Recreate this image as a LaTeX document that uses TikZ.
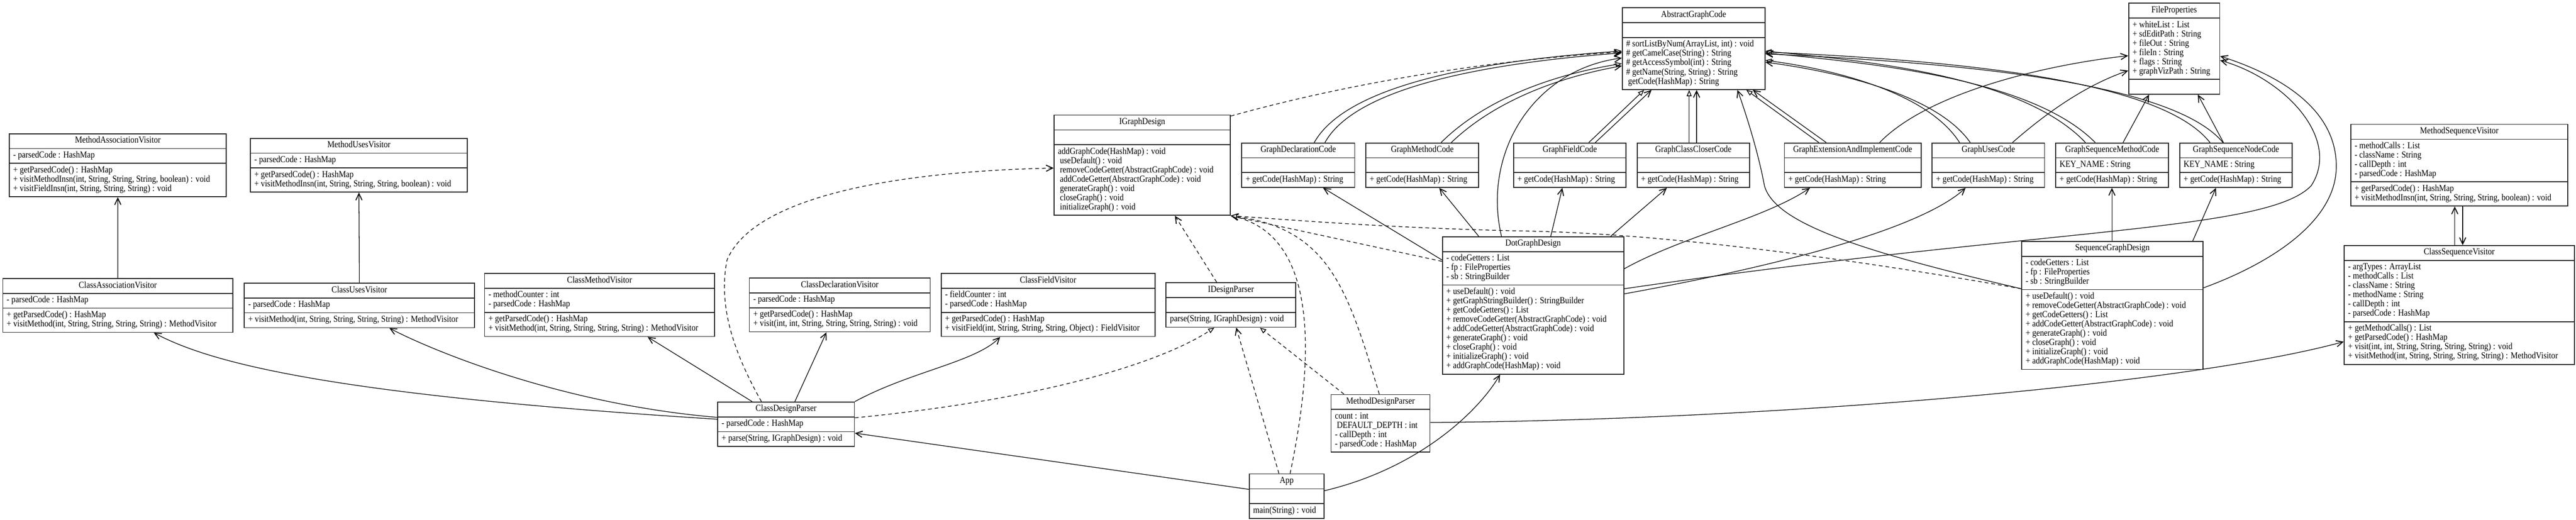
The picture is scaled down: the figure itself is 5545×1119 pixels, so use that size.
\documentclass[tikz,border=0pt]{standalone}
\usepackage{fontspec}
\setmainfont{Liberation Serif}[FakeStretch=0.88]
\usetikzlibrary{positioning, calc, arrows.meta, shapes.multipart}
\tikzset{umlclass/.style={draw=black!85, line width=0.55pt, rectangle split, rectangle split parts=3,
    align=flush left, anchor=north west, inner xsep=2.4pt, inner ysep=1.42pt,
    font=\fontsize{5.65pt}{5.69pt}\selectfont}}
\tikzset{cls/.style={umlclass, text width=#1-4.8pt}}
\tikzset{assoc/.style={line width=0.4pt, -{Straight Barb[length=4pt,width=3.8pt,line width=0.55pt]}}}
\tikzset{dep/.style={assoc, dash pattern=on 2.3pt off 1.8pt}}
\tikzset{gen/.style={line width=0.4pt, -{Triangle[length=3.8pt,width=3pt,fill=white,line width=0.45pt]}}}
\tikzset{real/.style={gen, dash pattern=on 2.3pt off 1.8pt}}

\begin{document}
\begin{tikzpicture}[x=0.01cm, y=-0.01cm]
  \fill[white] (0,0) rectangle (5545,1119);
  \useasboundingbox (0,0) rectangle (5545,1119);

  % visitors
  \node[cls=4.67cm] (mav) at (19,287) {\centering\strut MethodAssociationVisitor\par
    \nodepart{two}\strut - parsedCode : HashMap\strut
    \nodepart{three}\strut + getParsedCode() : HashMap\\+ visitMethodInsn(int, String, String, String, boolean) : void\\+ visitFieldInsn(int, String, String, String) : void\strut};
  \node[cls=4.67cm] (muv) at (538,297) {\centering\strut MethodUsesVisitor\par
    \nodepart{two}\strut - parsedCode : HashMap\strut
    \nodepart{three}\strut + getParsedCode() : HashMap\\+ visitMethodInsn(int, String, String, String, boolean) : void\strut};
  \node[cls=4.95cm] (cav) at (5,599) {\centering\strut ClassAssociationVisitor\par
    \nodepart{two}\strut - parsedCode : HashMap\strut
    \nodepart{three}\strut + getParsedCode() : HashMap\\+ visitMethod(int, String, String, String, String) : MethodVisitor\strut};
  \node[cls=4.95cm] (cuv) at (525,609) {\centering\strut ClassUsesVisitor\par
    \nodepart{two}\strut - parsedCode : HashMap\strut
    \nodepart{three}\strut + visitMethod(int, String, String, String, String) : MethodVisitor\strut};
  \node[cls=4.95cm] (cmv) at (1042,588) {\centering\strut ClassMethodVisitor\par
    \nodepart{two}\strut - methodCounter : int\\- parsedCode : HashMap\strut
    \nodepart{three}\strut + getParsedCode() : HashMap\\+ visitMethod(int, String, String, String, String) : MethodVisitor\strut};
  \node[cls=3.89cm] (cdv) at (1612,598) {\centering\strut ClassDeclarationVisitor\par
    \nodepart{two}\strut - parsedCode : HashMap\strut
    \nodepart{three}\strut + getParsedCode() : HashMap\\+ visit(int, int, String, String, String, String) : void\strut};
  \node[cls=4.60cm] (cfv) at (2025,588) {\centering\strut ClassFieldVisitor\par
    \nodepart{two}\strut - fieldCounter : int\\- parsedCode : HashMap\strut
    \nodepart{three}\strut + getParsedCode() : HashMap\\+ visitField(int, String, String, String, Object) : FieldVisitor\strut};
  \node[cls=4.67cm] (msv) at (5059,267) {\centering\strut MethodSequenceVisitor\par
    \nodepart{two}\strut - methodCalls : List\\- className : String\\- callDepth : int\\- parsedCode : HashMap\strut
    \nodepart{three}\strut + getParsedCode() : HashMap\\+ visitMethodInsn(int, String, String, String, boolean) : void\strut};
  \node[cls=4.95cm] (csv) at (5045,528) {\centering\strut ClassSequenceVisitor\par
    \nodepart{two}\strut - argTypes : ArrayList\\- methodCalls : List\\- className : String\\- methodName : String\\- callDepth : int\\- parsedCode : HashMap\strut
    \nodepart{three}\strut + getMethodCalls() : List\\+ getParsedCode() : HashMap\\+ visit(int, int, String, String, String, String) : void\\+ visitMethod(int, String, String, String, String) : MethodVisitor\strut};

  % parsers and app
  \node[cls=2.79cm] (idp) at (2509,608) {\centering\strut IDesignParser\par
    \nodepart{two}\strut
    \nodepart{three}\strut parse(String, IGraphDesign) : void\strut};
  \node[cls=2.94cm] (cdp) at (1544,865) {\centering\strut ClassDesignParser\par
    \nodepart{two}\strut - parsedCode : HashMap\strut
    \nodepart{three}\strut + parse(String, IGraphDesign) : void\strut};
  \node[cls=2.13cm, rectangle split parts=2] (mdp) at (2864,849) {\centering\strut MethodDesignParser\par
    \nodepart{two}\strut count : int\\\hspace*{1.2pt}DEFAULT\_DEPTH : int\\- callDepth : int\\- parsedCode : HashMap\strut};
  \node[cls=1.61cm] (app) at (2688,1020) {\centering\strut App\par
    \nodepart{two}\strut
    \nodepart{three}\strut main(String) : void\strut};

  % graph designs
  \node[cls=3.79cm] (igd) at (2268,247) {\centering\strut IGraphDesign\par
    \nodepart{two}\strut
    \nodepart{three}\strut addGraphCode(HashMap) : void\\\hspace*{1.2pt}useDefault() : void\\\hspace*{1.2pt}removeCodeGetter(AbstractGraphCode) : void\\\hspace*{1.2pt}addCodeGetter(AbstractGraphCode) : void\\\hspace*{1.2pt}generateGraph() : void\\\hspace*{1.2pt}closeGraph() : void\\\hspace*{1.2pt}initializeGraph() : void\strut};
  \node[cls=3.90cm] (dgd) at (3104,509) {\centering\strut DotGraphDesign\par
    \nodepart{two}\strut - codeGetters : List\\- fp : FileProperties\\- sb : StringBuilder\strut
    \nodepart{three}\strut + useDefault() : void\\+ getGraphStringBuilder() : StringBuilder\\+ getCodeGetters() : List\\+ removeCodeGetter(AbstractGraphCode) : void\\+ addCodeGetter(AbstractGraphCode) : void\\+ generateGraph() : void\\+ closeGraph() : void\\+ initializeGraph() : void\\+ addGraphCode(HashMap) : void\strut};
  \node[cls=3.90cm] (sgd) at (4351,519) {\centering\strut SequenceGraphDesign\par
    \nodepart{two}\strut - codeGetters : List\\- fp : FileProperties\\- sb : StringBuilder\strut
    \nodepart{three}\strut + useDefault() : void\\+ removeCodeGetter(AbstractGraphCode) : void\\+ getCodeGetters() : List\\+ addCodeGetter(AbstractGraphCode) : void\\+ generateGraph() : void\\+ closeGraph() : void\\+ initializeGraph() : void\\+ addGraphCode(HashMap) : void\strut};

  % code getters
  \node[cls=3.07cm] (agc) at (3491,16) {\centering\strut AbstractGraphCode\par
    \nodepart{two}\strut
    \nodepart{three}\strut\# sortListByNum(ArrayList, int) : void\\\# getCamelCase(String) : String\\\# getAccessSymbol(int) : String\\\# getName(String, String) : String\\\hspace*{1.2pt}getCode(HashMap) : String\strut};
  \node[cls=1.96cm] (fp) at (4581,6) {\centering\strut FileProperties\par
    \nodepart{two}\strut + whiteList : List\\+ sdEditPath : String\\+ fileOut : String\\+ fileIn : String\\+ flags : String\\+ graphVizPath : String\strut
    \nodepart{three}\strut};
  \node[cls=2.43cm] (gdc) at (2672,307) {\centering\strut GraphDeclarationCode\par
    \nodepart{two}\strut\nodepart{three}\strut + getCode(HashMap) : String\strut};
  \node[cls=2.43cm] (gmc) at (2939,307) {\centering\strut GraphMethodCode\par
    \nodepart{two}\strut\nodepart{three}\strut + getCode(HashMap) : String\strut};
  \node[cls=2.42cm] (gfc) at (3257,307) {\centering\strut GraphFieldCode\par
    \nodepart{two}\strut\nodepart{three}\strut + getCode(HashMap) : String\strut};
  \node[cls=2.42cm] (gccc) at (3523,307) {\centering\strut GraphClassCloserCode\par
    \nodepart{two}\strut\nodepart{three}\strut + getCode(HashMap) : String\strut};
  \node[cls=2.94cm] (geaic) at (3840,307) {\centering\strut GraphExtensionAndImplementCode\par
    \nodepart{two}\strut\nodepart{three}\strut + getCode(HashMap) : String\strut};
  \node[cls=2.42cm] (guc) at (4158,307) {\centering\strut GraphUsesCode\par
    \nodepart{two}\strut\nodepart{three}\strut + getCode(HashMap) : String\strut};
  \node[cls=2.43cm] (gsmc) at (4424,307) {\centering\strut GraphSequenceMethodCode\par
    \nodepart{two}\strut KEY\_NAME : String\strut\nodepart{three}\strut + getCode(HashMap) : String\strut};
  \node[cls=2.42cm] (gsnc) at (4691,307) {\centering\strut GraphSequenceNodeCode\par
    \nodepart{two}\strut KEY\_NAME : String\strut\nodepart{three}\strut + getCode(HashMap) : String\strut};

  % visitor links
  \draw[assoc] (cav.north) -- (mav.south);
  \draw[assoc] (cuv.north) -- (muv.south);
  \draw[assoc] ($(cdp.north west)+(0,38)$) .. controls (700,850) and (450,780) .. ($(cav.south west)+(326,0)$);
  \draw[assoc] ($(cdp.north west)+(0,34)$) .. controls (1200,870) and (920,750) .. ($(cuv.south west)+(313,0)$);
  \draw[assoc] ($(cdp.north west)+(75,0)$) -- ($(cmv.south west)+(352,0)$);
  \draw[assoc] ($(cdp.north west)+(167,0)$) -- ($(cdv.south west)+(167,0)$);
  \draw[assoc] (cdp.north east) .. controls (1960,800) and (2100,780) .. ($(cfv.south west)+(128,0)$);
  \draw[dep] ($(cdp.north west)+(95,0)$) .. controls (1580,760) and (1545,660) .. (1565,560)
    .. controls (1620,430) and (1900,370) .. ($(igd.north west)+(0,115)$);
  \draw[real] ($(cdp.north east)+(0,35)$) .. controls (2250,860) and (2500,780) .. ($(idp.south west)+(105,0)$);
  \draw[assoc] ($(app.north west)+(0,34)$) -- ($(cdp.north east)+(0,68)$);
  \draw[assoc] ($(app.north east)+(0,37)$) .. controls (3050,1010) and (3180,890) .. ($(dgd.south west)+(125,0)$);
  \draw[dep] ($(app.north west)+(65,0)$) -- ($(idp.south west)+(152,0)$);
  \draw[dep] ($(app.north west)+(89,0)$) .. controls (2840,720) and (2820,500) .. (igd.south east);
  \draw[real] ($(mdp.north west)+(29,0)$) -- ($(idp.south west)+(203,0)$);
  \draw[dep] ($(mdp.north west)+(105,0)$) .. controls (2900,620) and (2860,490) .. (igd.south east);
  \draw[assoc] ($(mdp.north east)+(0,61)$) .. controls (3800,905) and (4700,830) .. ($(csv.north west)+(0,208)$);
  \draw[dep] ($(idp.north west)+(110,0)$) -- ($(igd.south west)+(261,0)$);
  \draw[assoc] ($(csv.north west)+(239,0)$) -- ($(msv.south west)+(225,0)$);
  \draw[assoc] ($(msv.south west)+(242,0)$) -- ($(csv.north west)+(256,0)$);

  % graph design links
  \draw[dep] ($(igd.north east)+(0,3)$) .. controls (2900,180) and (3200,130) .. ($(agc.north west)+(0,96)$);
  \draw[real] ($(dgd.north west)+(0,54)$) -- (igd.south east);
  \draw[real] ($(sgd.north west)+(0,103)$) .. controls (4000,560) and (3600,505) .. (3300,498)
    .. controls (3000,492) and (2800,475) .. (igd.south east);
  \draw[assoc] ($(dgd.north west)+(0,51)$) -- ($(gdc.south west)+(176,0)$);
  \draw[assoc] ($(dgd.north west)+(79,0)$) -- ($(gmc.south west)+(159,0)$);
  \draw[assoc] ($(dgd.north west)+(128,0)$) .. controls (3190,330) and (3300,150) .. ($(agc.north west)+(0,109)$);
  \draw[assoc] ($(dgd.north west)+(234,0)$) -- ($(gfc.south west)+(106,0)$);
  \draw[assoc] ($(dgd.north west)+(363,0)$) -- ($(gccc.south west)+(65,0)$);
  \draw[assoc] ($(dgd.north east)+(0,70)$) .. controls (3620,510) and (3800,470) .. ($(geaic.south west)+(56,0)$);
  \draw[assoc] ($(dgd.north east)+(0,124)$) .. controls (3900,560) and (4150,480) .. ($(guc.south west)+(73,0)$);
  \draw[assoc] ($(dgd.north east)+(0,113)$) .. controls (4400,490) and (4880,500) .. (4975,400)
    .. controls (5040,300) and (4920,170) .. ($(fp.north east)+(0,124)$);
  \draw[assoc] ($(sgd.north west)+(0,103)$) .. controls (4000,540) and (3820,480) .. (3798,400)
    .. controls (3785,330) and (3760,250) .. ($(agc.south west)+(249,0)$);
  \draw[assoc] ($(sgd.north west)+(195,0)$) -- ($(gsmc.south west)+(122,0)$);
  \draw[assoc] ($(sgd.north west)+(369,0)$) -- ($(gsnc.south west)+(79,0)$);
  \draw[assoc] ($(sgd.north east)+(0,101)$) .. controls (4880,570) and (5030,480) .. (5029,357)
    .. controls (5028,230) and (4900,160) .. ($(fp.north east)+(0,115)$);

  % code getter links
  \draw[assoc] ($(gsmc.north west)+(146,0)$) -- ($(fp.south west)+(45,0)$);
  \draw[assoc] ($(gsnc.north west)+(95,0)$) -- ($(fp.south west)+(150,0)$);
  \draw[assoc] ($(geaic.north west)+(206,0)$) .. controls (4150,200) and (4400,140) .. ($(fp.north west)+(0,114)$);
  \draw[assoc] ($(guc.north west)+(174,0)$) .. controls (4420,230) and (4500,180) .. ($(fp.north west)+(0,146)$);
  \draw[gen] ($(gdc.north west)+(157,0)$) .. controls (2900,180) and (3200,130) .. ($(agc.north west)+(0,94)$);
  \draw[assoc] ($(gdc.north west)+(180,0)$) .. controls (2920,185) and (3210,135) .. ($(agc.north west)+(0,98)$);
  \draw[gen] ($(gmc.north west)+(163,0)$) .. controls (3200,210) and (3350,160) .. ($(agc.north west)+(0,121)$);
  \draw[assoc] ($(gmc.north west)+(185,0)$) .. controls (3220,215) and (3360,165) .. ($(agc.north west)+(0,126)$);
  \draw[gen] ($(gfc.north west)+(163,0)$) -- ($(agc.south west)+(48,0)$);
  \draw[assoc] ($(gfc.north west)+(177,0)$) -- ($(agc.south west)+(64,0)$);
  \draw[gen] ($(gccc.north west)+(113,0)$) -- ($(agc.south west)+(145,0)$);
  \draw[assoc] ($(gccc.north west)+(129,0)$) -- ($(agc.south west)+(161,0)$);
  \draw[gen] ($(geaic.north west)+(75,0)$) -- ($(agc.south west)+(268,0)$);
  \draw[assoc] ($(geaic.north west)+(91,0)$) -- ($(agc.south west)+(282,0)$);
  \draw[gen] ($(guc.north west)+(60,0)$) .. controls (4150,200) and (3950,150) .. ($(agc.north east)+(0,114)$);
  \draw[assoc] ($(guc.north west)+(83,0)$) .. controls (4170,205) and (3960,155) .. ($(agc.north east)+(0,118)$);
  \draw[gen] ($(gsmc.north west)+(65,0)$) .. controls (4350,160) and (4000,130) .. ($(agc.north east)+(0,94)$);
  \draw[assoc] ($(gsmc.north west)+(86,0)$) .. controls (4370,165) and (4010,135) .. ($(agc.north east)+(0,98)$);
  \draw[gen] ($(gsnc.north west)+(66,0)$) .. controls (4650,170) and (4200,130) .. ($(agc.north east)+(0,96)$);
  \draw[assoc] ($(gsnc.north west)+(94,0)$) .. controls (4675,175) and (4210,135) .. ($(agc.north east)+(0,100)$);
\end{tikzpicture}
\end{document}
